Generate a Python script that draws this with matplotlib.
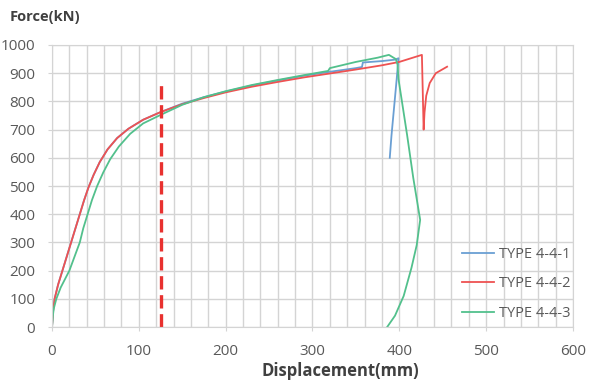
import matplotlib
matplotlib.use('Agg')
import matplotlib.pyplot as plt
from matplotlib.ticker import MultipleLocator

plt.rcParams['font.family'] = ['Open Sans', 'DejaVu Sans']

# TYPE 4-4-1
x1 = [0, 1, 3, 7, 12, 17, 22, 27, 32, 37, 42, 48, 55, 64, 75, 88, 105, 125, 150, 175, 200,
      230, 260, 290, 320, 350, 357, 358, 380, 395, 399, 397, 394, 391, 389]
f1 = [0, 50, 100, 150, 200, 250, 300, 350, 400, 450, 495, 540, 585, 630, 670, 703, 735, 762, 792, 815, 835,
      856, 874, 891, 905, 918, 922, 938, 943, 948, 953, 880, 780, 680, 600]

# TYPE 4-4-2
x2 = [0, 1, 3, 7, 12, 17, 22, 27, 32, 37, 42, 48, 55, 64, 75, 88, 105, 125, 150, 175, 200,
      230, 260, 290, 320, 350, 380, 400, 426, 428, 429, 431, 435, 442, 455]
f2 = [0, 50, 100, 150, 200, 250, 300, 350, 400, 450, 495, 540, 585, 630, 670, 703, 735, 762, 790, 812, 832,
      852, 869, 885, 899, 913, 928, 940, 965, 700, 760, 820, 865, 900, 923]

# TYPE 4-4-3
x3 = [0, 1, 2, 5, 10, 15, 20, 26, 32, 36, 41, 46, 52, 59, 67, 77, 90, 105, 125, 150, 175, 200,
      230, 260, 290, 318, 320, 350, 375, 388, 396, 398, 399, 404, 409, 416, 424, 420, 414, 405, 395, 386]
f3 = [0, 40, 65, 100, 140, 170, 200, 250, 300, 350, 400, 450, 500, 548, 595, 640, 685, 722, 752, 788, 815, 836,
      858, 876, 893, 908, 918, 940, 955, 965, 950, 930, 880, 780, 680, 530, 380, 290, 210, 110, 40, 0]

names = ['TYPE 4-4-1', 'TYPE 4-4-2', 'TYPE 4-4-3']
colors = ['#6a9fd3', '#ee5252', '#52c08c']

yield_x = 125
yield_top = 870

fig = plt.figure(figsize=(5.89, 3.81), dpi=100)
ax = fig.add_axes([0.0883, 0.1417, 0.8845, 0.7402])

for xs, fs, c, n in zip([x1, x2, x3], [f1, f2, f3], colors, names):
    ax.plot(xs, fs, color=c, lw=1.3, label=n)

ax.plot([yield_x, yield_x], [0, yield_top], color='#e8312f', lw=2.4,
        linestyle=(0, (4, 1.7)))

ax.set_xlim(0, 600)
ax.set_ylim(0, 1000)
ax.xaxis.set_major_locator(MultipleLocator(100))
ax.xaxis.set_minor_locator(MultipleLocator(20))
ax.yaxis.set_major_locator(MultipleLocator(100))
ax.grid(which='both', axis='x', color='#d4d4d4', lw=1.0)
ax.grid(which='major', axis='y', color='#d4d4d4', lw=1.0)
ax.set_axisbelow(True)
for s in ax.spines.values():
    s.set_color('#d4d4d4')
ax.tick_params(which='major', colors='#d4d4d4', labelcolor='#595959', labelsize=11, length=3)
ax.tick_params(axis='y', pad=9)
ax.tick_params(axis='x', pad=9)
ax.tick_params(which='minor', length=0)

ax.set_xlabel('Displacement(mm)', fontsize=12, fontweight='bold', color='#404040')
ax.xaxis.set_label_coords(0.553, -0.125)
fig.text(0.017, 0.975, 'Force(kN)', fontsize=10.5, fontweight='bold', color='#404040', va='top')

ax.legend(handles=ax.lines[:3], frameon=False, loc='lower right', bbox_to_anchor=(1.02, -0.025),
          fontsize=10.5, handlelength=2.2, labelspacing=1.0, handletextpad=0.3, labelcolor='#595959')

fig.savefig('out.png', dpi=100)
